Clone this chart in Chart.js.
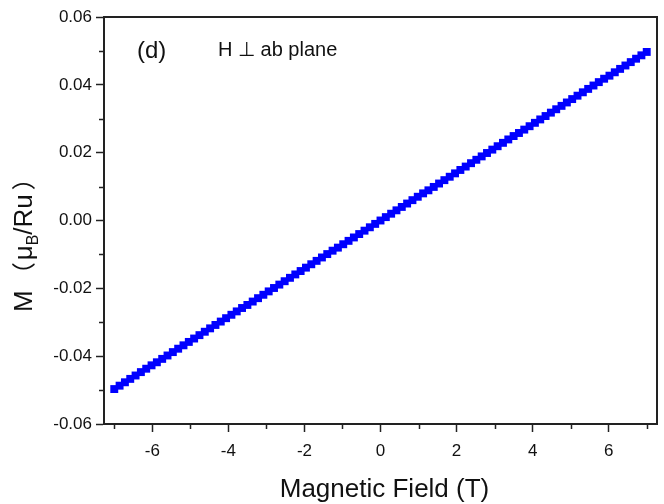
<!DOCTYPE html>
<html>
<head>
<meta charset="utf-8">
<script src="https://cdn.jsdelivr.net/npm/chart.js@4.4.1/dist/chart.umd.min.js"></script>
<style>
  html, body { margin: 0; padding: 0; background: #fff; }
  #wrap { width: 664px; height: 504px; }
</style>
</head>
<body>
<div id="wrap"><canvas id="mh"></canvas></div>
<script>
// field sweep (T) and magnetization (muB/Ru)
const field = [
  -7.00, -6.86, -6.72, -6.58, -6.44, -6.30, -6.16, -6.02, -5.88, -5.74,
  -5.60, -5.46, -5.32, -5.18, -5.04, -4.90, -4.76, -4.62, -4.48, -4.34,
  -4.20, -4.06, -3.92, -3.78, -3.64, -3.50, -3.36, -3.22, -3.08, -2.94,
  -2.80, -2.66, -2.52, -2.38, -2.24, -2.10, -1.96, -1.82, -1.68, -1.54,
  -1.40, -1.26, -1.12, -0.98, -0.84, -0.70, -0.56, -0.42, -0.28, -0.14,
  0.00,
  0.14, 0.28, 0.42, 0.56, 0.70, 0.84, 0.98, 1.12, 1.26, 1.40,
  1.54, 1.68, 1.82, 1.96, 2.10, 2.24, 2.38, 2.52, 2.66, 2.80,
  2.94, 3.08, 3.22, 3.36, 3.50, 3.64, 3.78, 3.92, 4.06, 4.20,
  4.34, 4.48, 4.62, 4.76, 4.90, 5.04, 5.18, 5.32, 5.46, 5.60,
  5.74, 5.88, 6.02, 6.16, 6.30, 6.44, 6.58, 6.72, 6.86, 7.00
];
const moment = [
  -0.0497, -0.0487, -0.0477, -0.0467, -0.0457, -0.0447, -0.0437, -0.0427, -0.0418, -0.0408,
  -0.0398, -0.0388, -0.0378, -0.0368, -0.0358, -0.0348, -0.0338, -0.0328, -0.0318, -0.0308,
  -0.0298, -0.0288, -0.0278, -0.0268, -0.0258, -0.0249, -0.0239, -0.0229, -0.0219, -0.0209,
  -0.0199, -0.0189, -0.0179, -0.0169, -0.0159, -0.0149, -0.0139, -0.0129, -0.0119, -0.0109,
  -0.0099, -0.0089, -0.0080, -0.0070, -0.0060, -0.0050, -0.0040, -0.0030, -0.0020, -0.0010,
  0.0000,
  0.0010, 0.0020, 0.0030, 0.0040, 0.0050, 0.0060, 0.0070, 0.0080, 0.0089, 0.0099,
  0.0109, 0.0119, 0.0129, 0.0139, 0.0149, 0.0159, 0.0169, 0.0179, 0.0189, 0.0199,
  0.0209, 0.0219, 0.0229, 0.0239, 0.0249, 0.0258, 0.0268, 0.0278, 0.0288, 0.0298,
  0.0308, 0.0318, 0.0328, 0.0338, 0.0348, 0.0358, 0.0368, 0.0378, 0.0388, 0.0398,
  0.0408, 0.0418, 0.0427, 0.0437, 0.0447, 0.0457, 0.0467, 0.0477, 0.0487, 0.0497
];

const xTicks = [-6, -4, -2, 0, 2, 4, 6];
const xMinor = [-7, -5, -3, -1, 1, 3, 5, 7];
const yTicks = [-0.06, -0.04, -0.02, 0.00, 0.02, 0.04, 0.06];
const yMinor = [-0.05, -0.03, -0.01, 0.01, 0.03, 0.05];

const axisColor = "#222";
const font = "'Liberation Sans', Arial, sans-serif";

const points = field.map((h, i) => ({ x: h, y: moment[i] }));

// frame, minor ticks, axis titles and panel labels
const decor = {
  id: "decor",
  afterDraw(chart) {
    const ctx = chart.ctx;
    const a = chart.chartArea;
    const xs = chart.scales.x;
    const ys = chart.scales.y;
    ctx.save();
    ctx.strokeStyle = axisColor;
    ctx.lineWidth = 2;
    ctx.beginPath();
    ctx.moveTo(a.left, a.top);
    ctx.lineTo(a.right, a.top);
    ctx.lineTo(a.right, a.bottom);
    ctx.stroke();

    ctx.lineWidth = 1.5;
    ctx.beginPath();
    xMinor.forEach(v => {
      const px = Math.round(xs.getPixelForValue(v)) + 0.5;
      ctx.moveTo(px, a.bottom);
      ctx.lineTo(px, a.bottom + 5);
    });
    yMinor.forEach(v => {
      const py = Math.round(ys.getPixelForValue(v)) + 0.5;
      ctx.moveTo(a.left, py);
      ctx.lineTo(a.left - 5, py);
    });
    ctx.stroke();

    ctx.fillStyle = "#111";
    ctx.textBaseline = "alphabetic";

    // x title
    ctx.font = "26px " + font;
    ctx.textAlign = "center";
    ctx.fillText("Magnetic Field (T)", (a.left + a.right) / 2 + 4, 497);

    // y title, rotated
    ctx.save();
    ctx.translate(32, 312);
    ctx.rotate(-Math.PI / 2);
    ctx.textAlign = "left";
    let cx = 0;
    const part = (txt, f, dy, gap) => {
      ctx.font = f;
      ctx.fillText(txt, cx, dy || 0);
      cx += ctx.measureText(txt).width + (gap || 0);
    };
    part("M", "26px " + font, 0, 4);
    part("\uFF08", "24px 'Noto Sans CJK SC', " + font, 0, 2);
    part("\u03BC", "26px " + font);
    part("B", "16px " + font, 6);
    part("/Ru", "26px " + font, 0, 4);
    part("\uFF09", "24px 'Noto Sans CJK SC', " + font);
    ctx.restore();

    // panel labels
    ctx.textAlign = "left";
    ctx.font = "24px " + font;
    ctx.fillText("(d)", 137, 58);
    ctx.font = "20px " + font;
    ctx.fillText("H \u22A5 ab plane", 218, 56);
    ctx.restore();
  }
};

new Chart(document.getElementById("mh"), {
  type: "scatter",
  data: {
    datasets: [{
      data: points,
      pointStyle: "rect",
      pointRadius: 5.6,
      pointHoverRadius: 5.6,
      pointBackgroundColor: "#0000ff",
      pointBorderWidth: 0,
      showLine: false
    }]
  },
  options: {
    responsive: true,
    maintainAspectRatio: false,
    animation: false,
    events: [],
    layout: { padding: { top: 17, right: 7, bottom: 0, left: 0 } },
    plugins: { legend: { display: false }, tooltip: { enabled: false } },
    scales: {
      x: {
        type: "linear",
        min: -7.27,
        max: 7.27,
        afterBuildTicks: s => { s.ticks = xTicks.map(v => ({ value: v })); },
        afterFit: s => { s.height = 80; },
        border: { display: true, color: axisColor, width: 2 },
        grid: { display: true, drawOnChartArea: false, drawTicks: true, tickLength: 8, tickColor: axisColor, tickWidth: 1.5 },
        ticks: {
          padding: 9,
          color: "#111",
          font: { family: font, size: 17 },
          callback: v => String(v)
        }
      },
      y: {
        type: "linear",
        min: -0.06,
        max: 0.06,
        afterBuildTicks: s => { s.ticks = yTicks.map(v => ({ value: v })); },
        afterFit: s => { s.width = 104; },
        border: { display: true, color: axisColor, width: 2 },
        grid: { display: true, drawOnChartArea: false, drawTicks: true, tickLength: 8, tickColor: axisColor, tickWidth: 1.5 },
        ticks: {
          padding: 4,
          color: "#111",
          font: { family: font, size: 17 },
          callback: v => Number(v).toFixed(2)
        }
      }
    }
  },
  plugins: [decor]
});
</script>
</body>
</html>
